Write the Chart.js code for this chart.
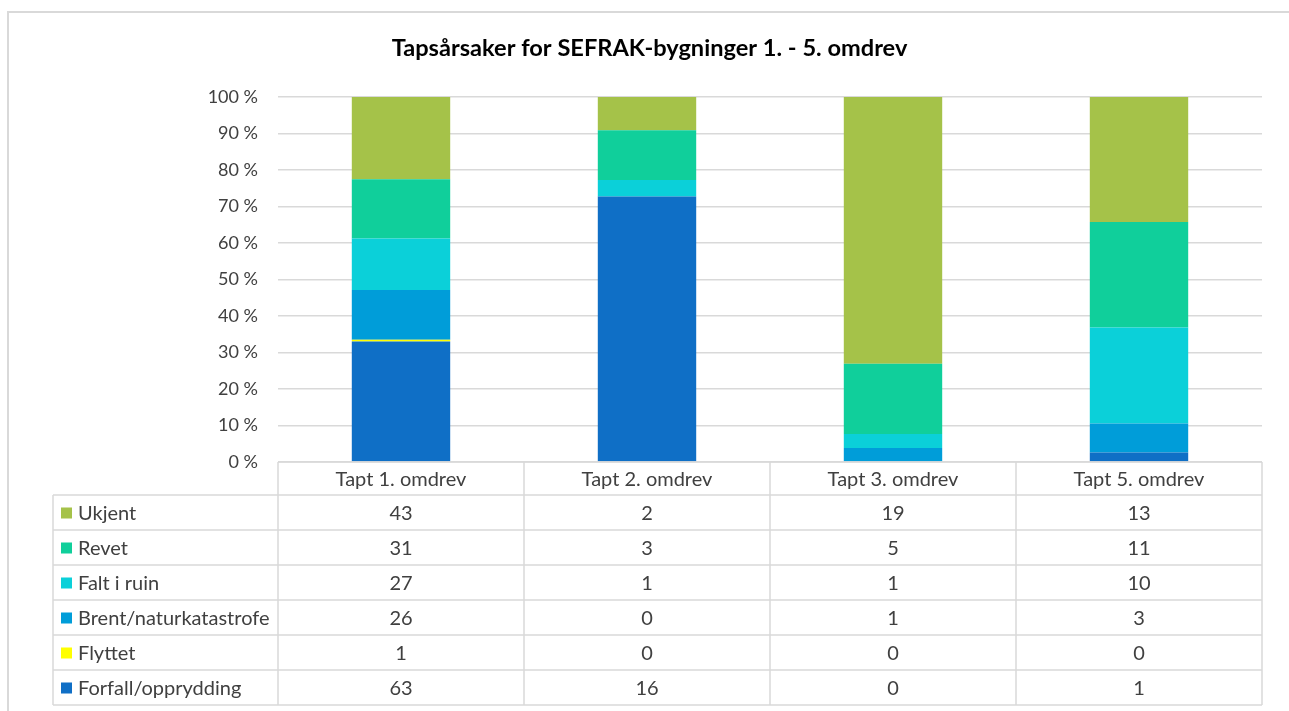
<!DOCTYPE html>
<html>
<head>
<meta charset="utf-8">
<title>Tapsårsaker for SEFRAK-bygninger</title>
<script src="https://cdn.jsdelivr.net/npm/chart.js@4"></script>
<style>
  html, body { margin: 0; padding: 0; background: #fff; }
  #wrap { position: relative; width: 1289px; height: 711px; }
</style>
</head>
<body>
<div id="wrap"><canvas id="chart" width="1289" height="711"></canvas></div>
<script>
// ============================================================
// DATA (antall bygninger per tapsårsak og omdrev)
// ============================================================
const categories = ["Tapt 1. omdrev", "Tapt 2. omdrev", "Tapt 3. omdrev", "Tapt 5. omdrev"];
const ukjent     = [43, 2, 19, 13];
const revet      = [31, 3, 5, 11];
const faltIRuin  = [27, 1, 1, 10];
const brent      = [26, 0, 1, 3];
const flyttet    = [1, 0, 0, 0];
const forfall    = [63, 16, 0, 1];
const yTicks     = [0, 10, 20, 30, 40, 50, 60, 70, 80, 90, 100];

const FONT = "Lato, 'Open Sans', sans-serif";
const TEXT = "#404040";
const GRID = "#D9D9D9";

// Serier nedenfra og opp (tabellen viser dem i motsatt rekkefølge)
const series = [
  { label: "Forfall/opprydding",    counts: forfall,   color: "#0F6FC6" },
  { label: "Flyttet",               counts: flyttet,   color: "#FFFF00" },
  { label: "Brent/naturkatastrofe", counts: brent,     color: "#009DD9" },
  { label: "Falt i ruin",           counts: faltIRuin, color: "#0BD0D9" },
  { label: "Revet",                 counts: revet,     color: "#10CF9B" },
  { label: "Ukjent",                counts: ukjent,    color: "#A5C249" },
];

// 100 % stablet: andel av totalen per omdrev
const totals = categories.map((_, i) => series.reduce((s, d) => s + d.counts[i], 0));

// ============================================================
// PLUGIN: ramme + datatabell under plottet
// ============================================================
const frameAndTable = {
  id: "frameAndTable",
  beforeDraw(chart) {
    const ctx = chart.ctx;
    ctx.save();
    ctx.strokeStyle = GRID;
    ctx.lineWidth = 2;
    ctx.beginPath();
    ctx.moveTo(8, chart.height + 2);
    ctx.lineTo(8, 12);
    ctx.lineTo(chart.width + 2, 12);
    ctx.stroke();
    ctx.restore();
  },
  afterDraw(chart) {
    const ctx = chart.ctx;
    const x = chart.scales.x;
    const area = chart.chartArea;
    const n = categories.length;
    const colW = (area.right - area.left) / n;
    const headerTop = area.bottom;
    const headerH = 33;
    const rowH = 35;
    const tableLeft = 53;
    const rows = series.slice().reverse();
    const bodyTop = headerTop + headerH;
    const bodyBottom = bodyTop + rows.length * rowH;

    ctx.save();
    ctx.strokeStyle = GRID;
    ctx.lineWidth = 1.5;
    ctx.beginPath();
    // header
    ctx.moveTo(area.left, headerTop);
    ctx.lineTo(area.right, headerTop);
    for (let i = 0; i <= n; i++) {
      const vx = area.left + i * colW;
      ctx.moveTo(vx, headerTop);
      ctx.lineTo(vx, bodyBottom);
    }
    // rader
    for (let r = 0; r <= rows.length; r++) {
      const hy = bodyTop + r * rowH;
      ctx.moveTo(tableLeft, hy);
      ctx.lineTo(area.right, hy);
    }
    ctx.moveTo(tableLeft, bodyTop);
    ctx.lineTo(tableLeft, bodyBottom);
    ctx.stroke();

    ctx.fillStyle = TEXT;
    ctx.font = "20px " + FONT;
    ctx.textBaseline = "middle";
    ctx.textAlign = "center";
    categories.forEach((c, i) => {
      ctx.fillText(c, x.getPixelForValue(i), headerTop + headerH / 2 + 1);
    });

    rows.forEach((s, r) => {
      const cy = bodyTop + r * rowH + rowH / 2 + 1;
      ctx.fillStyle = s.color;
      ctx.fillRect(61, cy - 6, 11, 11);
      ctx.fillStyle = TEXT;
      ctx.textAlign = "left";
      ctx.fillText(s.label, 78, cy);
      ctx.textAlign = "center";
      s.counts.forEach((v, i) => {
        ctx.fillText(String(v), x.getPixelForValue(i), cy);
      });
    });
    ctx.restore();
  },
};

// ============================================================
// CHART
// ============================================================
new Chart(document.getElementById("chart"), {
  type: "bar",
  data: {
    labels: categories,
    datasets: series.map(s => ({
      label: s.label,
      data: s.counts.map((v, i) => (v / totals[i]) * 100),
      backgroundColor: s.color,
      borderWidth: 0,
      categoryPercentage: 1,
      barPercentage: 0.4,
    })),
  },
  options: {
    responsive: false,
    animation: false,
    layout: { padding: { left: 37, right: 27, top: 0, bottom: 249 } },
    plugins: {
      legend: { display: false },
      tooltip: { enabled: false },
      title: {
        display: true,
        text: "Tapsårsaker for SEFRAK-bygninger 1. - 5. omdrev",
        color: "#000",
        font: { family: FONT, size: 23.6, weight: "bold", lineHeight: 1.2 },
        padding: { top: 34, bottom: 34.7 },
      },
    },
    scales: {
      x: { stacked: true, display: false },
      y: {
        stacked: true,
        min: 0,
        max: 100,
        afterFit(scale) { scale.width = 241; },
        afterBuildTicks(scale) { scale.ticks = yTicks.map(v => ({ value: v })); },
        ticks: {
          color: TEXT,
          padding: 20,
          font: { family: FONT, size: 18 },
          callback: v => v + " %",
        },
        grid: { color: GRID, lineWidth: 1.5, drawTicks: false },
        border: { display: false },
      },
    },
  },
  plugins: [frameAndTable],
});
</script>
</body>
</html>
